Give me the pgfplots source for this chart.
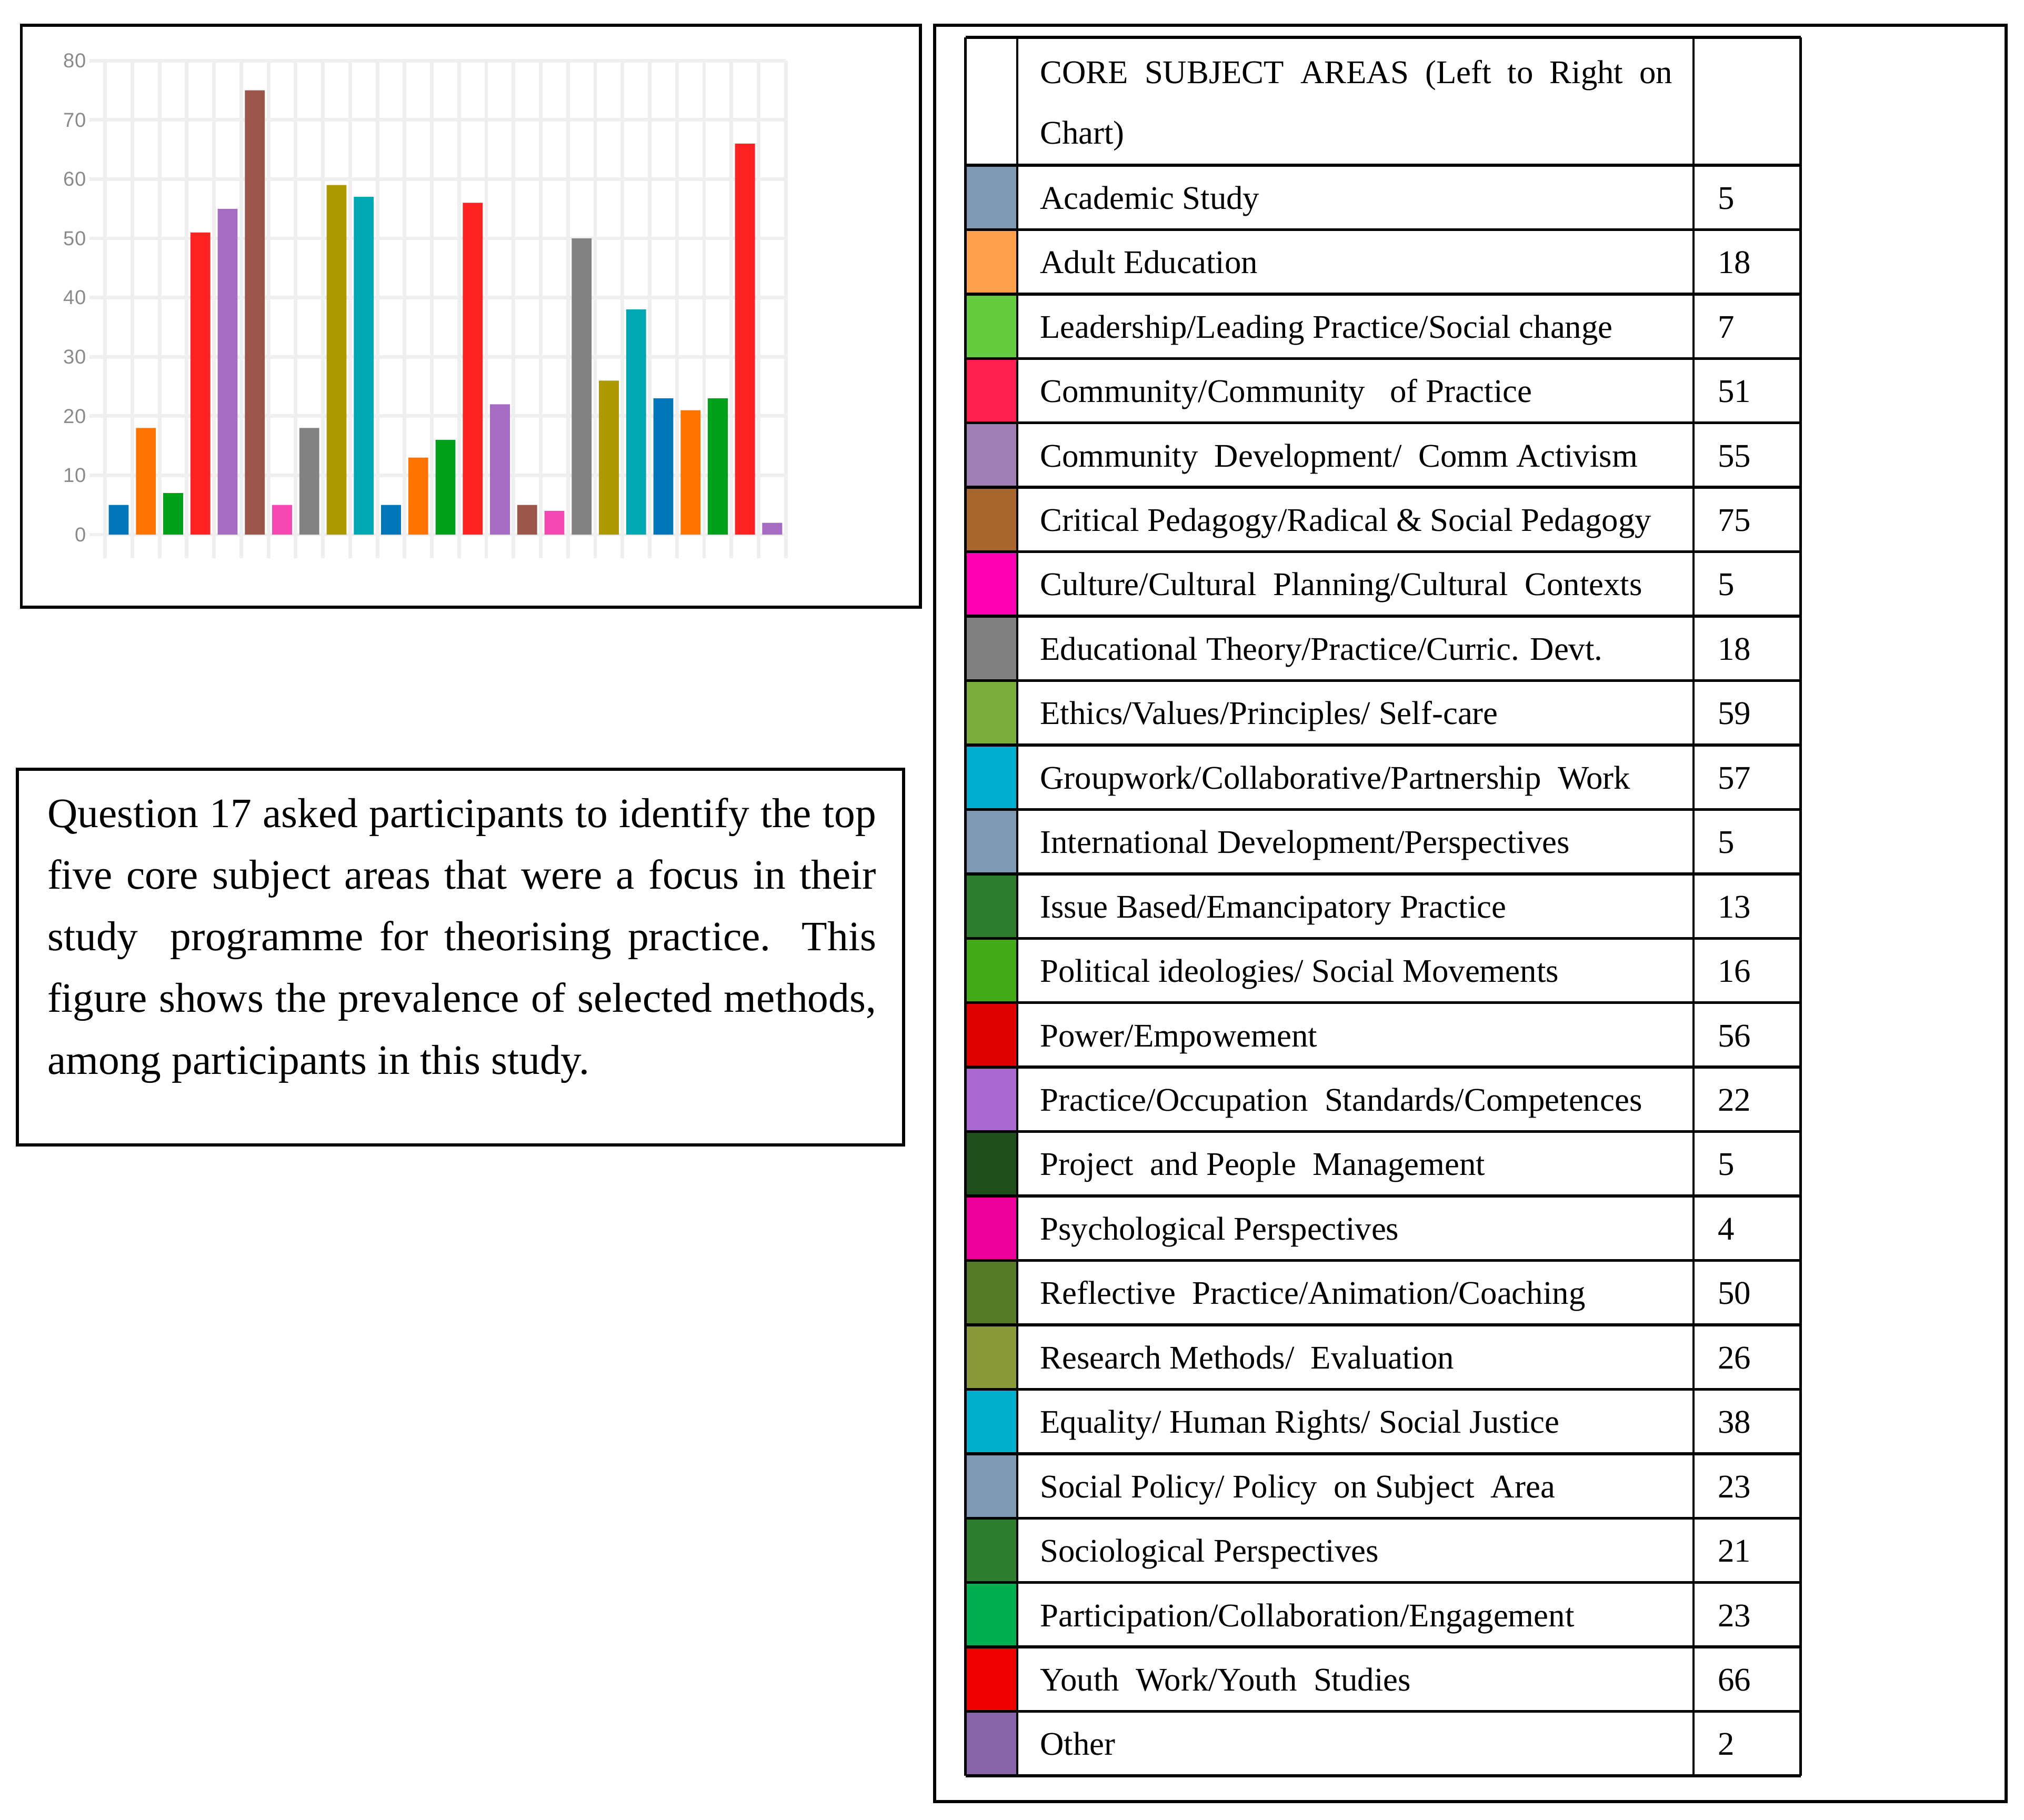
\documentclass[border=0pt]{standalone}
\usepackage{pgfplots}
\pgfplotsset{compat=1.18}
\usepackage{fontspec}
\setmainfont{Liberation Serif}
\newfontfamily\chartsans{Liberation Sans}

% chart colours
\definecolor{cblue}{HTML}{0075B8}
\definecolor{corange}{HTML}{FF7300}
\definecolor{cgreen}{HTML}{00A11A}
\definecolor{cred}{HTML}{FF2222}
\definecolor{cpurple}{HTML}{A66BC2}
\definecolor{cbrown}{HTML}{9C5549}
\definecolor{cpink}{HTML}{F547B2}
\definecolor{cgrey}{HTML}{828282}
\definecolor{colive}{HTML}{AD9A00}
\definecolor{cteal}{HTML}{00A8B4}
\definecolor{gridc}{HTML}{EFEFEF}
\definecolor{zeroc}{HTML}{CFCFCF}
\definecolor{tickc}{HTML}{8A8A8A}

% table swatch colours
\definecolor{s1}{HTML}{7F98B4}
\definecolor{s2}{HTML}{FFA04E}
\definecolor{s3}{HTML}{66CC3F}
\definecolor{s4}{HTML}{FE1E50}
\definecolor{s5}{HTML}{A07FB5}
\definecolor{s6}{HTML}{A8662F}
\definecolor{s7}{HTML}{FF00B0}
\definecolor{s8}{HTML}{808080}
\definecolor{s9}{HTML}{7AAD3C}
\definecolor{s10}{HTML}{00AED0}
\definecolor{s11}{HTML}{7F98B4}
\definecolor{s12}{HTML}{2E7D2E}
\definecolor{s13}{HTML}{44AA18}
\definecolor{s14}{HTML}{E00000}
\definecolor{s15}{HTML}{A86AD0}
\definecolor{s16}{HTML}{1E4E1A}
\definecolor{s17}{HTML}{EC0099}
\definecolor{s18}{HTML}{567A28}
\definecolor{s19}{HTML}{8A9A3A}
\definecolor{s20}{HTML}{00B0CC}
\definecolor{s21}{HTML}{7F98B4}
\definecolor{s22}{HTML}{2F7D2F}
\definecolor{s23}{HTML}{00B050}
\definecolor{s24}{HTML}{EE0000}
\definecolor{s25}{HTML}{8763A8}

\newcommand{\tabfont}{\fontsize{6.4}{11.7}\selectfont}
\newcommand{\trow}[4]{%
  \pgfmathsetmacro{\ytop}{128+(#1-1)*49.92}%
  \pgfmathsetmacro{\ybot}{128+#1*49.92}%
  \pgfmathsetmacro{\ybase}{128+(#1-1)*49.92+34}%
  \fill[#2] (748,\ytop) rectangle (788,\ybot);%
  \node[anchor=base west, inner sep=0pt, font=\tabfont] at (805,\ybase) {#3};%
  \node[anchor=base west, inner sep=0pt, font=\tabfont] at (1330,\ybase) {#4};%
}

\begin{document}
\begin{tikzpicture}[x=0.25pt, y=-0.25pt]
\path (0,0) rectangle (1568,1410);
\coordinate (chartorigin) at (81.4,432.6);

% ---------- chart box ----------
\draw[line width=0.6pt] (16.5,19.5) rectangle (713,470.5);

\begin{axis}[
  at={(chartorigin)}, anchor=south west,
  scale only axis, width=131.85pt, height=96.4pt,
  xmin=-0.5, xmax=24.5, ymin=-4, ymax=80,
  ybar, bar width=0.73,
  axis line style={draw=none},
  xtick={0.5,1.5,...,23.5}, xticklabels={},
  x tick style={draw=none},
  extra x ticks={-0.5,24.5}, extra x tick labels={},
  extra x tick style={grid style={draw=gridc!80!gray, line width=0.9pt}, x tick style={draw=none}},
  ytick={10,20,...,80},
  extra y ticks={0},
  extra y tick style={grid style={draw=zeroc, line width=0.8pt}, tick style={draw=zeroc, line width=0.8pt}},
  ytick pos=left, tick align=outside, major tick length=3pt,
  y tick style={draw=gridc, line width=0.7pt},
  grid=major,
  major grid style={draw=gridc, line width=0.7pt},
  yticklabel style={font=\chartsans\fontsize{3.9}{4.5}\selectfont, text=tickc, inner sep=0.5pt},
  /pgf/number format/assume math mode=true,
  clip=false,
]
\addplot[fill=cblue, draw=none, bar shift=0pt] coordinates {(0,5) (10,5) (20,23)};
\addplot[fill=corange, draw=none, bar shift=0pt] coordinates {(1,18) (11,13) (21,21)};
\addplot[fill=cgreen, draw=none, bar shift=0pt] coordinates {(2,7) (12,16) (22,23)};
\addplot[fill=cred, draw=none, bar shift=0pt] coordinates {(3,51) (13,56) (23,66)};
\addplot[fill=cpurple, draw=none, bar shift=0pt] coordinates {(4,55) (14,22) (24,2)};
\addplot[fill=cbrown, draw=none, bar shift=0pt] coordinates {(5,75) (15,5)};
\addplot[fill=cpink, draw=none, bar shift=0pt] coordinates {(6,5) (16,4)};
\addplot[fill=cgrey, draw=none, bar shift=0pt] coordinates {(7,18) (17,50)};
\addplot[fill=colive, draw=none, bar shift=0pt] coordinates {(8,59) (18,26)};
\addplot[fill=cteal, draw=none, bar shift=0pt] coordinates {(9,57) (19,38)};
\end{axis}

% ---------- text box ----------
\draw[line width=0.6pt] (13.5,596) rectangle (700,887);
\node[anchor=base west, inner sep=0pt, text width=160.5pt, align=justify,
      font=\fontsize{8.1}{11.95}\selectfont] at (36,641)
{Question 17 asked participants to identify the top\linebreak
five core subject areas that were a focus in their\linebreak
study\ \ programme for theorising practice. This\linebreak
figure shows the prevalence of selected methods,\linebreak
among participants in this study.};

% ---------- right box ----------
\draw[line width=0.6pt] (724,19.5) rectangle (1554,1396);

% header
\node[anchor=base west, inner sep=0pt, text width=122.5pt, align=justify, font=\tabfont]
  at (805,64.7) {CORE\ \ SUBJECT\ \ AREAS\ \ (Left\ \ to\ \ Right\ \ on\linebreak Chart)};

\trow{1}{s1}{Academic Study}{5}
\trow{2}{s2}{Adult Education}{18}
\trow{3}{s3}{Leadership/Leading Practice/Social change}{7}
\trow{4}{s4}{Community/Community\ \ \ of Practice}{51}
\trow{5}{s5}{Community\ \ Development/\ \ Comm Activism}{55}
\trow{6}{s6}{Critical Pedagogy/Radical \& Social Pedagogy}{75}
\trow{7}{s7}{Culture/Cultural\ \ Planning/Cultural\ \ Contexts}{5}
\trow{8}{s8}{Educational Theory/Practice/Curric. Devt.}{18}
\trow{9}{s9}{Ethics/Values/Principles/ Self-care}{59}
\trow{10}{s10}{Groupwork/Collaborative/Partnership\ \ Work}{57}
\trow{11}{s11}{International Development/Perspectives}{5}
\trow{12}{s12}{Issue Based/Emancipatory Practice}{13}
\trow{13}{s13}{Political ideologies/ Social Movements}{16}
\trow{14}{s14}{Power/Empowement}{56}
\trow{15}{s15}{Practice/Occupation\ \ Standards/Competences}{22}
\trow{16}{s16}{Project\ \ and People\ \ Management}{5}
\trow{17}{s17}{Psychological Perspectives}{4}
\trow{18}{s18}{Reflective\ \ Practice/Animation/Coaching}{50}
\trow{19}{s19}{Research Methods/\ \ Evaluation}{26}
\trow{20}{s20}{Equality/ Human Rights/ Social Justice}{38}
\trow{21}{s21}{Social Policy/ Policy\ \ on Subject\ \ Area}{23}
\trow{22}{s22}{Sociological Perspectives}{21}
\trow{23}{s23}{Participation/Collaboration/Engagement}{23}
\trow{24}{s24}{Youth\ \ Work/Youth\ \ Studies}{66}
\trow{25}{s25}{Other}{2}

% table rules
\draw[line width=0.55pt] (748,29) -- (1395,29);
\draw[line width=0.55pt] (748,128) -- (1395,128);
\foreach \k in {1,...,25} {
  \draw[line width=0.55pt] (748,{128+\k*49.92}) -- (1395,{128+\k*49.92});
}
\draw[line width=0.45pt] (748,29) -- (748,1376);
\draw[line width=0.45pt] (788,29) -- (788,1376);
\draw[line width=0.45pt] (1312,29) -- (1312,1376);
\draw[line width=0.45pt] (1395,29) -- (1395,1376);
\end{tikzpicture}
\end{document}
